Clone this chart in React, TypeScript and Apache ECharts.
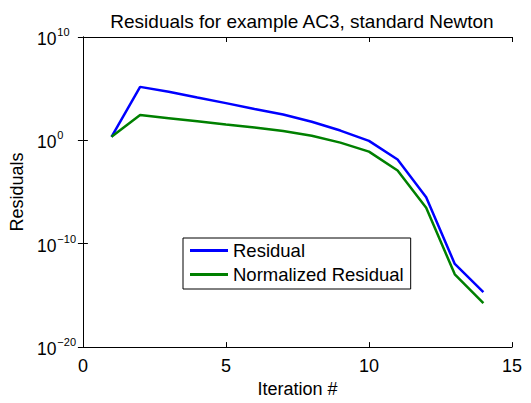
import React, { useEffect, useRef } from "react";
import * as echarts from "echarts";

const iterations = [1, 2, 3, 4, 5, 6, 7, 8, 9, 10, 11, 12, 13, 14];
const residual = [2.2, 1.5e5, 5e4, 1.4e4, 4e3, 1.1e3, 3.2e2, 63, 8.9, 0.89, 1.4e-2, 3.2e-6, 1.1e-12, 2.1e-15];
const normalizedResidual = [2.2, 2.8e2, 1.4e2, 71, 35, 18, 7.9, 2.8, 0.6, 8.1e-2, 1.2e-3, 3e-7, 1.1e-13, 1.8e-16];
const seriesNames = ["Residual", "Normalized Residual"];
const xTicks = [0, 5, 10, 15];
const yTickExponents = [-20, -10, 0, 10];

const FONT = "'Liberation Sans', Arial, Helvetica, sans-serif";

export default function App() {
  const ref = useRef<HTMLDivElement>(null);
  useEffect(() => {
    if (!ref.current) return;
    const chart = echarts.init(ref.current, undefined, { renderer: "svg" });
    const supLabel = (v: number) => {
      const e = Math.round(Math.log10(v));
      if (!yTickExponents.includes(e)) return "";
      const s = e < 0 ? "\u2212" + Math.abs(e) : String(e);
      return "{base|10}{sup|" + s + "}";
    };
    chart.setOption({
      animation: false,
      backgroundColor: "#ffffff",
      textStyle: { fontFamily: FONT },
      title: {
        text: "Residuals for example AC3, standard Newton",
        left: 297,
        top: 7,
        textAlign: "center",
        textStyle: { fontFamily: FONT, fontSize: 19, fontWeight: "normal", color: "#000" },
      },
      grid: { left: 81, right: 19, top: 37, bottom: 44, containLabel: false },
      legend: {
        data: seriesNames.map((n) => ({ name: n, icon: "rect" })),
        orient: "vertical",
        left: 183,
        top: 238,
        itemWidth: 38,
        itemHeight: 3,
        itemGap: 5,
        padding: [3, 7, 5, 7],
        borderColor: "#000",
        borderWidth: 1,
        backgroundColor: "#fff",
        textStyle: { fontFamily: FONT, fontSize: 18.5, color: "#000" },
      },
      xAxis: [
        {
          type: "value",
          min: 0,
          max: 15,
          interval: 5,
          name: "Iteration #",
          nameLocation: "middle",
          nameGap: 32,
          nameTextStyle: { fontFamily: FONT, fontSize: 18, color: "#000", verticalAlign: "top" },
          axisLine: { show: true, lineStyle: { color: "#000", width: 1 } },
          axisTick: { show: true, inside: true, length: 5, lineStyle: { color: "#000" } },
          axisLabel: {
            margin: 10,
            fontFamily: FONT,
            fontSize: 18,
            color: "#000",
            formatter: (v: number) => (xTicks.includes(v) ? String(v) : ""),
          },
          splitLine: { show: false },
        },
        {
          type: "value",
          position: "top",
          min: 0,
          max: 15,
          interval: 5,
          axisLine: { show: true, lineStyle: { color: "#000", width: 1 } },
          axisTick: { show: true, inside: true, length: 5, lineStyle: { color: "#000" } },
          axisLabel: { show: false },
          splitLine: { show: false },
        },
      ],
      yAxis: [
        {
          type: "log",
          logBase: 10,
          min: 1e-20,
          max: 1e10,
          interval: 10,
          name: "Residuals",
          nameLocation: "middle",
          nameGap: 54,
          nameTextStyle: { fontFamily: FONT, fontSize: 18, color: "#000" },
          axisLine: { show: true, lineStyle: { color: "#000", width: 1 } },
          axisTick: { show: true, inside: true, length: 5, lineStyle: { color: "#000" } },
          minorTick: { show: false },
          axisLabel: {
            margin: 46,
            align: "left",
            color: "#000",
            formatter: supLabel,
            rich: {
              base: { fontFamily: FONT, fontSize: 17.5, color: "#000", padding: [4, 0, 0, 0] },
              sup: { fontFamily: FONT, fontSize: 11, color: "#000", padding: [0, 0, 10, 1] },
            },
            fontFamily: FONT,
            fontSize: 17.5,
          },
          splitLine: { show: false },
        },
        {
          type: "log",
          logBase: 10,
          position: "right",
          min: 1e-20,
          max: 1e10,
          interval: 10,
          axisLine: { show: true, lineStyle: { color: "#000", width: 1 } },
          axisTick: { show: true, inside: true, length: 5, lineStyle: { color: "#000" } },
          axisLabel: { show: false },
          splitLine: { show: false },
        },
      ],
      series: [
        {
          name: seriesNames[0],
          type: "line",
          xAxisIndex: 0,
          yAxisIndex: 0,
          symbol: "none",
          data: iterations.map((x, i) => [x, residual[i]]),
          lineStyle: { color: "#0000ff", width: 2.5 },
          itemStyle: { color: "#0000ff" },
        },
        {
          name: seriesNames[1],
          type: "line",
          xAxisIndex: 0,
          yAxisIndex: 0,
          symbol: "none",
          data: iterations.map((x, i) => [x, normalizedResidual[i]]),
          lineStyle: { color: "#008000", width: 2.5 },
          itemStyle: { color: "#008000" },
        },
      ],
    });
    return () => chart.dispose();
  }, []);
  return (
    <div
      ref={ref}
      style={{ position: "absolute", left: 0, top: 0, width: 531, height: 403 }}
    />
  );
}
